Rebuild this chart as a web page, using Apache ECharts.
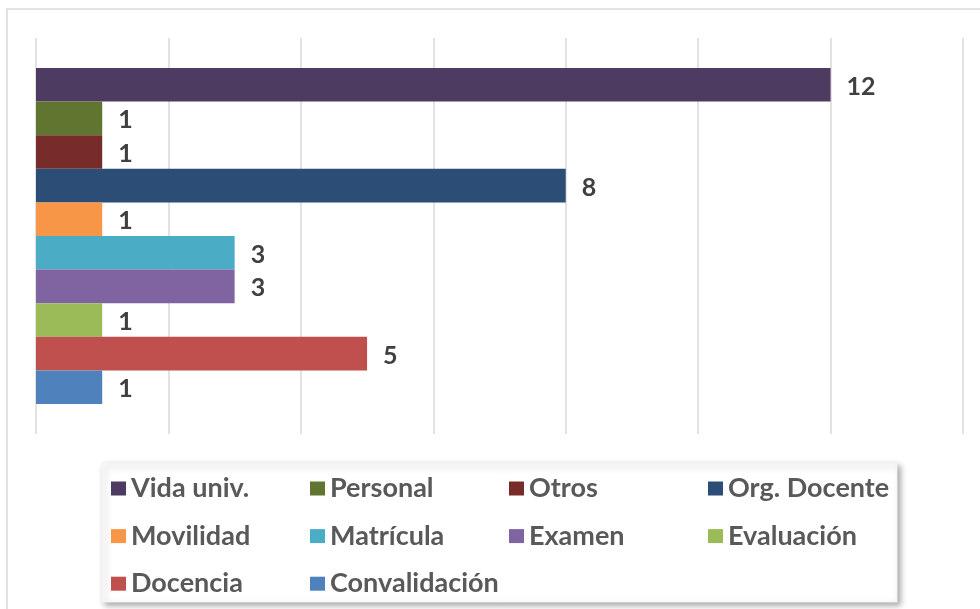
<!DOCTYPE html>
<html>
<head>
<meta charset="utf-8">
<script src="https://cdn.jsdelivr.net/npm/echarts@6/dist/echarts.min.js"></script>
<style>
html,body{margin:0;padding:0;background:#fff;}
#chart{width:980px;height:609px;}
</style>
</head>
<body>
<div id="chart"></div>
<script>
const seriesNames = ['Vida univ.', 'Personal', 'Otros', 'Org. Docente', 'Movilidad', 'Matrícula', 'Examen', 'Evaluación', 'Docencia', 'Convalidación'];
const seriesValues = [12, 1, 1, 8, 1, 3, 3, 1, 5, 1];
const seriesColors = ['#4E3B62', '#5F7530', '#772C2A', '#2C4D75', '#F79646', '#4BACC6', '#8064A2', '#9BBB59', '#C0504D', '#4F81BD'];
const categories = [''];
const legendColumns = [
  ['Vida univ.', 'Movilidad', 'Docencia'],
  ['Personal', 'Matrícula', 'Convalidación'],
  ['Otros', 'Examen'],
  ['Org. Docente', 'Evaluación']
];

const FONT = 'Lato';
const chart = echarts.init(document.getElementById('chart'), null, {renderer: 'canvas'});

const series = seriesNames.map((name, i) => ({
  name: name,
  type: 'bar',
  data: [seriesValues[i]],
  barWidth: 33.6,
  barGap: '0%',
  itemStyle: {color: seriesColors[i]},
  label: {
    show: true,
    position: 'right',
    distance: 16,
    offset: [0, 2],
    fontFamily: FONT,
    fontWeight: 'bold',
    fontSize: 25,
    color: '#404040'
  }
}));

const legendLefts = [111, 310, 509, 708];
const legends = legendColumns.map((col, i) => ({
  orient: 'vertical',
  left: legendLefts[i],
  top: 475,
  padding: 0,
  itemGap: 20.6,
  itemWidth: 15,
  itemHeight: 14,
  icon: 'rect',
  selectedMode: false,
  data: col,
  textStyle: {
    fontFamily: FONT,
    fontWeight: 'bold',
    fontSize: 27,
    lineHeight: 26,
    color: '#595959'
  }
}));

chart.setOption({
  animation: false,
  backgroundColor: '#fff',
  graphic: [
    {type: 'rect', z: -10, shape: {x: 7, y: 9, width: 990, height: 620},
     style: {fill: '#fff', stroke: '#d9d9d9', lineWidth: 1.5}},
    {type: 'rect', z: -5, shape: {x: 102, y: 463, width: 795, height: 139},
     style: {fill: '#fff', stroke: '#f2f2f2', lineWidth: 1,
             shadowBlur: 6, shadowOffsetX: 3, shadowOffsetY: 3, shadowColor: 'rgba(0,0,0,0.35)'}}
  ],
  grid: {left: 36, right: 17, top: 38, bottom: 175, containLabel: false},
  xAxis: {
    type: 'value', min: 0, max: 14, interval: 2,
    axisLabel: {show: false},
    axisLine: {show: false},
    axisTick: {show: false},
    splitLine: {show: true, lineStyle: {color: '#d9d9d9', width: 1.5}}
  },
  yAxis: {
    type: 'category', data: categories, inverse: true,
    axisLine: {show: false}, axisTick: {show: false}, axisLabel: {show: false}
  },
  legend: legends,
  series: series
});
</script>
</body>
</html>
